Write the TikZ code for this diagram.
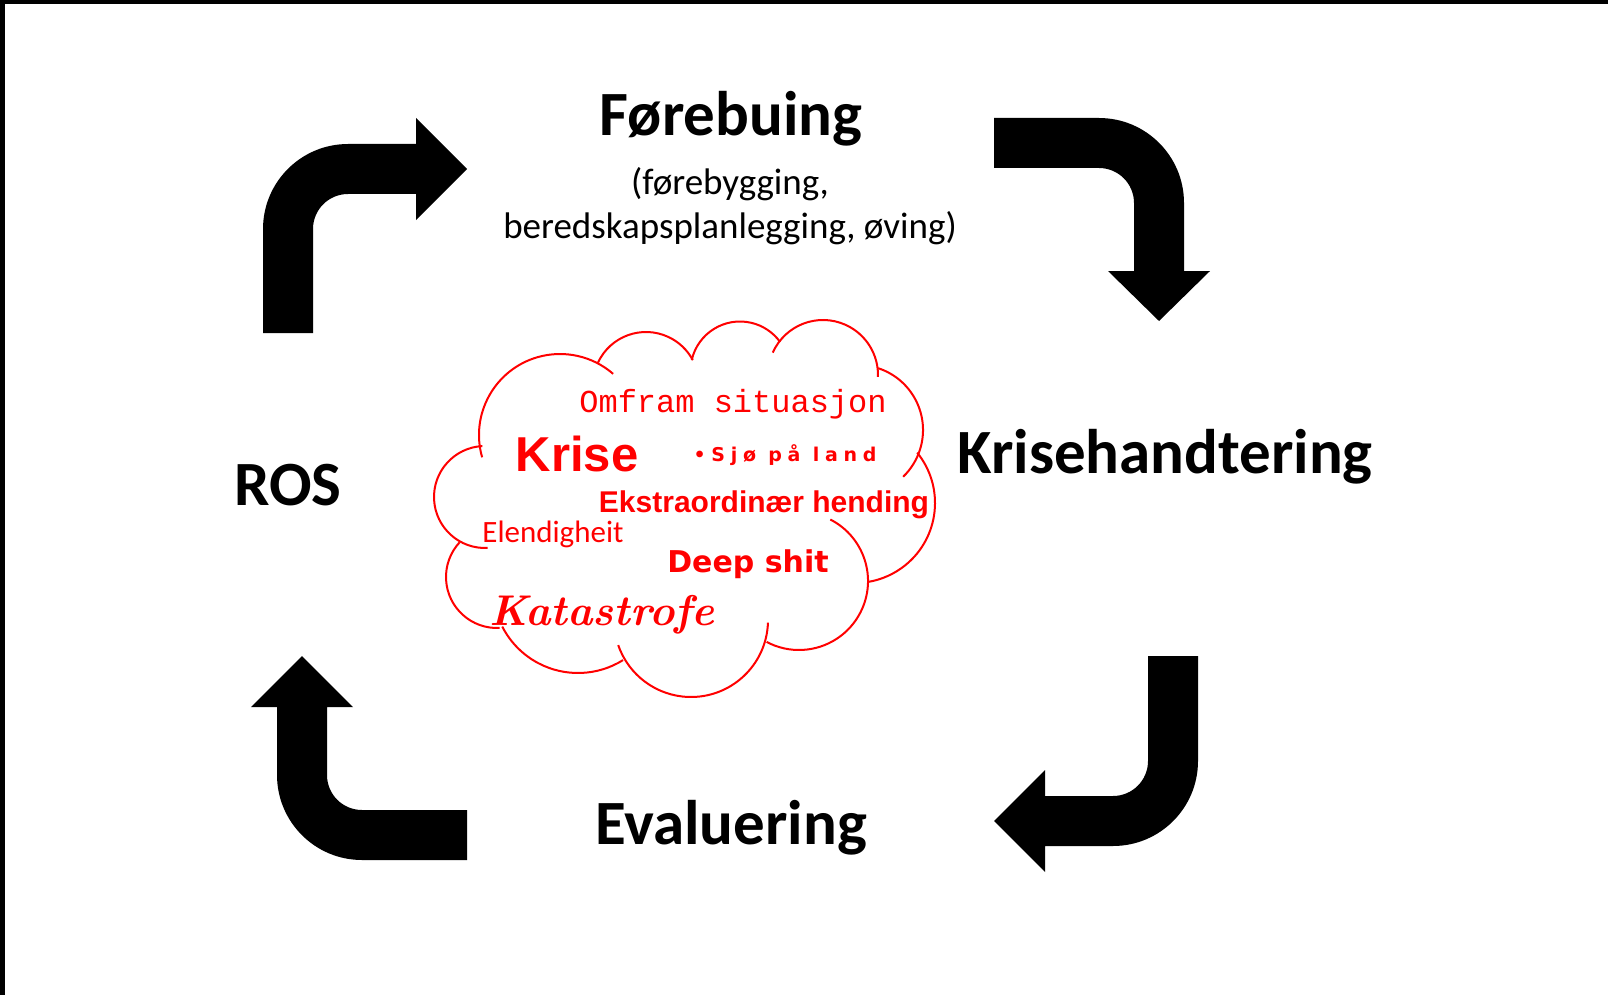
\documentclass[tikz,border=0pt]{standalone}
\usepackage{fontspec}
\setmainfont{Carlito}
\newfontfamily\monofont{Liberation Mono}
\newfontfamily\arialfont{Liberation Sans}
\newfontfamily\dejavufont{DejaVu Sans}
\newfontfamily\spacedfont[LetterSpace=30]{DejaVu Sans}
\newfontfamily\lmfont{Latin Modern Roman}

\begin{document}
\begin{tikzpicture}[
    x=1pt, y=1pt, yscale=-1, % one unit per pixel, y pointing down
    title/.style={anchor=base, font=\fontsize{63}{75}\selectfont\bfseries}, % Style for phase names
    sub/.style={anchor=base, font=\fontsize{37}{43}\selectfont}, % Style for the sub text
    word/.style={anchor=base, text=red, inner sep=0pt}, % Style for cloud words
    bentarrow/.style={fill=black},
    bump/.style={draw=red, line width=2pt}
  ]
    \path[use as bounding box, fill=white] (0,0) rectangle (1608,995);
    \fill (0,0) rectangle (1608,4);
    \fill (0,0) rectangle (5,995);

    % Define nodes
    \node (forebuing)     [title] at (731,136) {Førebuing};
    \node (forebuingsub)  [sub]   at (730,195) {(førebygging,};
    \node (forebuingsub2) [sub]   at (730,238) {beredskapsplanlegging, øving)};
    \node (ros)           [title] at (288,505) {ROS};
    \node (krise)         [title] at (1165,473) {Krisehandtering};
    \node (evaluering)    [title] at (731,844) {Evaluering};

    % Bent arrows of the cycle
    \fill[bentarrow] (263,333) -- (263,229) arc[start angle=180, end angle=270, radius=85] -- (416,144) -- (416,118) -- (467,169) -- (416,220) -- (416,194) -- (348,194) arc[start angle=270, end angle=180, radius=35] -- (313,333) -- cycle;
    \fill[bentarrow] (994,118) -- (1099,118) arc[start angle=270, end angle=360, radius=85] -- (1184,271) -- (1210,271) -- (1159,321) -- (1108,271) -- (1134,271) -- (1134,203) arc[start angle=0, end angle=-90, radius=35] -- (994,168) -- cycle;
    \fill[bentarrow] (1198,656) -- (1198,761) arc[start angle=0, end angle=90, radius=85] -- (1045,846) -- (1045,872) -- (994,821) -- (1045,770) -- (1045,796) -- (1113,796) arc[start angle=90, end angle=0, radius=35] -- (1148,656) -- cycle;
    \fill[bentarrow] (467,860) -- (362,860) arc[start angle=90, end angle=180, radius=85] -- (277,707) -- (251,707) -- (302,656) -- (353,707) -- (327,707) -- (327,775) arc[start angle=180, end angle=90, radius=35] -- (467,810) -- cycle;

    % Cloud outline
    \draw[bump] (560,435) ++(164:81) arc[start angle=164, end angle=311, radius=81];
    \draw[bump] (646,385) ++(205:53) arc[start angle=205, end angle=332, radius=53];
    \draw[bump] (740,371) ++(193:49.5) arc[start angle=193, end angle=324, radius=49.5];
    \draw[bump] (823,375) ++(204:55) arc[start angle=204, end angle=362, radius=55];
    \draw[bump] (858,430) ++(288:65) arc[start angle=288, end angle=406, radius=65];
    \draw[bump] (855,503) ++(321:80) arc[start angle=321, end angle=441, radius=80];
    \draw[bump] (799,581) ++(297:69) arc[start angle=297, end angle=478, radius=69];
    \draw[bump] (691,620) ++(2:77) arc[start angle=2, end angle=161, radius=77];
    \draw[bump] (578,588) ++(58:85) arc[start angle=58, end angle=153, radius=85];
    \draw[bump] (497,577) ++(87:51) arc[start angle=87, end angle=223, radius=51];
    \draw[bump] (485,497) ++(267:51) arc[start angle=267, end angle=87, radius=51];

    % Words in the cloud
    \node (omfram) [word, font=\monofont\fontsize{32}{38}\selectfont] at (733,412) {Omfram situasjon};
    \node (krisew) [word, font=\arialfont\bfseries\fontsize{49}{56}\selectfont] at (577,471) {Krise};
    \node (sjo)    [word, font=\spacedfont\bfseries\fontsize{19}{23}\selectfont] at (785,461) {•Sjø på land};
    \node (ekstra) [word, font=\arialfont\bfseries\fontsize{30}{36}\selectfont] at (764,512) {Ekstraordinær hending};
    \node (elend)  [word, font=\fontsize{31}{36}\selectfont] at (553,542) {Elendigheit};
    \node (deep)   [word, font=\dejavufont\bfseries\fontsize{30}{36}\selectfont] at (748,572) {Deep shit};
    \node (kata)   [word, font=\lmfont\bfseries\itshape\fontsize{43}{50}\selectfont] at (602,625) {Katastrofe};
\end{tikzpicture}
\end{document}
